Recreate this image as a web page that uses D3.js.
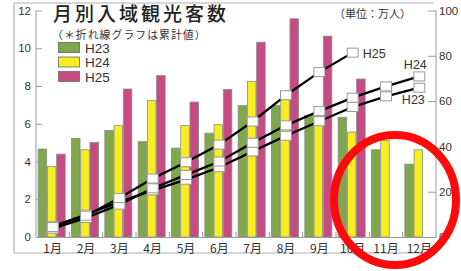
<!DOCTYPE html>
<html><head><meta charset="utf-8">
<script src="https://cdn.jsdelivr.net/npm/d3@7/dist/d3.min.js"></script>
<style>
html,body{margin:0;padding:0;background:#fff;}
svg{display:block;font-family:"Liberation Sans",Arial,sans-serif;}
.jp{font-family:"Noto Sans CJK JP","Liberation Sans",sans-serif;}
</style></head><body>
<svg id="c" width="461" height="271"></svg>
<script>
const months = ["1月","2月","3月","4月","5月","6月","7月","8月","9月","10月","11月","12月"];
const seriesNames = ["H23","H24","H25"];
const h23 = [4.66,5.22,5.65,5.05,4.71,5.5,6.96,6.96,6.45,6.34,4.62,3.86];
const h24 = [3.73,4.62,5.9,7.22,5.9,5.95,8.25,7.3,6.35,5.56,5.1,4.62];
const h25 = [4.39,5.01,7.84,8.55,7.15,7.81,10.32,11.56,10.64,8.37];
const cum23 = [4.7,9.9,15.5,20.6,25.3,30.8,37.8,44.7,51.1,57.4,62.1,65.9];
const cum24 = [3.7,8.4,14.3,21.5,27.4,33.3,41.6,49.3,55.6,61.5,66.5,70.9];
const cum25 = [4.4,9.4,17.2,25.8,33.0,40.8,51.0,62.6,72.8,81.4];
const leftTicks = [0,2,4,6,8,10,12];
const rightTicks = [0,20,40,60,80,100];
const colors = {H23:"#7fa84a", H24:"#f7ee22", H25:"#c84a83"};

const svg = d3.select("#c");
const X0 = 36, X1 = 436, YB = 237, YT = 10.5;
const x = d3.scaleBand().domain(months).range([X0, X1]);
const xs = d3.scaleBand().domain(seriesNames).range([-14.5, 12.5]).paddingInner(0.08);
const yL = d3.scaleLinear().domain([0,12]).range([YB, YT]);
const yR = d3.scaleLinear().domain([0,100]).range([YB, YT]);

// outer frame
const frame = svg.append("g").attr("stroke","#b0b0b0").attr("stroke-width",1.2).attr("fill","none");
frame.append("path").attr("d",`M433,3H14V253H433`);

// bars
const barData = [];
[h23,h24,h25].forEach((arr,si)=>arr.forEach((v,i)=>barData.push({s:seriesNames[si], m:months[i], v})));
svg.append("g").selectAll("rect").data(barData).join("rect")
  .attr("x", d=>x(d.m)+x.bandwidth()/2+xs(d.s))
  .attr("width", xs.bandwidth())
  .attr("y", d=>yL(d.v))
  .attr("height", d=>YB-yL(d.v))
  .attr("fill", d=>colors[d.s])
  .attr("stroke","#8a8a8a").attr("stroke-width",0.8);

// left axis
const axL = d3.axisLeft(yL).tickValues(leftTicks).tickSize(-6).tickPadding(5);
const gL = svg.append("g").attr("transform",`translate(${X0},0)`).call(axL);
// right axis
const axR = d3.axisRight(yR).tickValues(rightTicks).tickSize(-8).tickPadding(3);
const gR = svg.append("g").attr("transform",`translate(${X1},0)`).call(axR);
[gL,gR].forEach(g=>{
  g.select(".domain").attr("stroke","#9a9a9a").attr("d", `M0,${YT}V${YB}`);
  g.selectAll(".tick line").attr("stroke","#9a9a9a");
  g.selectAll(".tick text").attr("fill","#333").style("font-size","11.5px").style("font-family","'Liberation Sans',Arial,sans-serif");
});
// x axis
const axB = d3.axisBottom(x).tickSize(0).tickPadding(7);
const gB = svg.append("g").attr("transform",`translate(0,${YB})`).call(axB);
gB.select(".domain").attr("stroke","#9a9a9a");
gB.selectAll(".tick text").attr("class","jp").attr("fill","#333").style("font-size","12px");
svg.append("g").selectAll("line").data(months.slice(1)).join("line")
  .attr("x1", d=>x(d)).attr("x2", d=>x(d)).attr("y1",YB).attr("y2",YB-5)
  .attr("stroke","#9a9a9a");

// cumulative lines
const cx = (i)=>x(months[i])+x.bandwidth()/2;
const line = d3.line().x((d,i)=>cx(i)).y(d=>yR(d));
const lines = [cum23,cum24,cum25];
const gLines = svg.append("g");
lines.forEach(arr=>{
  gLines.append("path").datum(arr).attr("d",line).attr("fill","none").attr("stroke","#000").attr("stroke-width",2.3);
});
lines.forEach(arr=>{
  gLines.append("g").selectAll("rect").data(arr).join("rect")
    .attr("x",(d,i)=>cx(i)-5.5).attr("y",d=>yR(d)-4.5)
    .attr("width",11).attr("height",9)
    .attr("fill","#fff").attr("stroke","#9a9a9a").attr("stroke-width",1);
});
// line labels
const lab = svg.append("g").attr("fill","#333").style("font-size","12.5px");
lab.append("text").attr("x", cx(cum25.length-1)+10).attr("y", yR(cum25[cum25.length-1])+5).text("H25");
lab.append("text").attr("x", cx(11)-4).attr("y", yR(cum24[11])-7).attr("text-anchor","middle").text("H24");
lab.append("text").attr("x", cx(11)-6).attr("y", yR(cum23[11])+16).attr("text-anchor","middle").text("H23");

// titles
svg.append("text").attr("class","jp").attr("x",53).attr("y",21).attr("fill","#222")
  .style("font-size","19px").style("letter-spacing","3px").style("font-weight","500").text("月別入域観光客数");
svg.append("text").attr("class","jp").attr("x",52).attr("y",38.9).attr("fill","#333")
  .style("font-size","10.8px").style("letter-spacing","1.1px").text("（＊折れ線グラフは累計値）");
svg.append("text").attr("class","jp").attr("x",334).attr("y",18).attr("fill","#333")
  .style("font-size","11px").text("（単位：万人）");

// legend
const lg = svg.append("g");
seriesNames.forEach((s,i)=>{
  lg.append("rect").attr("x",58.5).attr("y",42.5+i*14.5).attr("width",21).attr("height",10)
    .attr("fill",colors[s]).attr("stroke","#666").attr("stroke-width",0.8);
  lg.append("text").attr("x",85).attr("y",52.5+i*14.5).attr("fill","#333").style("font-size","13.5px").text(s);
});

// red circle annotation
svg.append("ellipse").attr("cx",395).attr("cy",200).attr("rx",61).attr("ry",65)
  .attr("fill","none").attr("stroke","#ff0a0a").attr("stroke-width",8);
</script></body></html>
